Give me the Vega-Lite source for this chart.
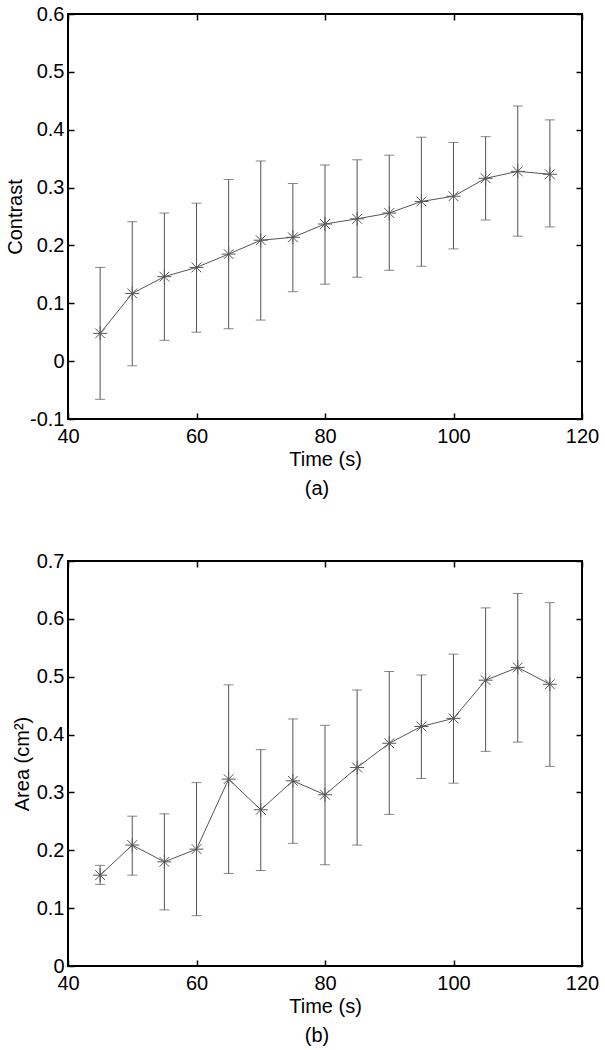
{
  "$schema": "https://vega.github.io/schema/vega-lite/v6.json",
  "background": "white",
  "padding": {"left": 4, "top": 3, "right": 0, "bottom": 0},
  "spacing": 50,
  "config": {
    "font": "Liberation Sans",
    "view": {"stroke": "black", "strokeWidth": 2},
    "axis": {
      "grid": false,
      "domain": false,
      "tickSize": -6,
      "tickColor": "black",
      "tickWidth": 1.5,
      "labelFontSize": 20,
      "labelColor": "black",
      "labelFlush": false,
      "labelOverlap": false,
      "titleFontSize": 20,
      "titleFontWeight": "normal",
      "titleColor": "black"
    },
    "title": {"fontSize": 20, "fontWeight": "normal", "color": "black"}
  },
  "datasets": {
    "contrast": [
      {"t": 45, "v": 0.048, "lo": -0.066, "hi": 0.162},
      {"t": 50, "v": 0.117, "lo": -0.008, "hi": 0.241},
      {"t": 55, "v": 0.146, "lo": 0.036, "hi": 0.256},
      {"t": 60, "v": 0.162, "lo": 0.050, "hi": 0.273},
      {"t": 65, "v": 0.185, "lo": 0.056, "hi": 0.314},
      {"t": 70, "v": 0.209, "lo": 0.071, "hi": 0.346},
      {"t": 75, "v": 0.214, "lo": 0.120, "hi": 0.307},
      {"t": 80, "v": 0.237, "lo": 0.133, "hi": 0.339},
      {"t": 85, "v": 0.246, "lo": 0.145, "hi": 0.348},
      {"t": 90, "v": 0.256, "lo": 0.157, "hi": 0.356},
      {"t": 95, "v": 0.276, "lo": 0.164, "hi": 0.387},
      {"t": 100, "v": 0.285, "lo": 0.194, "hi": 0.378},
      {"t": 105, "v": 0.316, "lo": 0.244, "hi": 0.388},
      {"t": 110, "v": 0.328, "lo": 0.216, "hi": 0.441},
      {"t": 115, "v": 0.323, "lo": 0.232, "hi": 0.417}
    ],
    "area": [
      {"t": 45, "v": 0.157, "lo": 0.141, "hi": 0.174},
      {"t": 50, "v": 0.209, "lo": 0.157, "hi": 0.259},
      {"t": 55, "v": 0.180, "lo": 0.097, "hi": 0.263},
      {"t": 60, "v": 0.202, "lo": 0.087, "hi": 0.317},
      {"t": 65, "v": 0.323, "lo": 0.160, "hi": 0.486},
      {"t": 70, "v": 0.270, "lo": 0.165, "hi": 0.374},
      {"t": 75, "v": 0.320, "lo": 0.212, "hi": 0.427},
      {"t": 80, "v": 0.296, "lo": 0.175, "hi": 0.416},
      {"t": 85, "v": 0.343, "lo": 0.209, "hi": 0.477},
      {"t": 90, "v": 0.385, "lo": 0.262, "hi": 0.509},
      {"t": 95, "v": 0.414, "lo": 0.324, "hi": 0.503},
      {"t": 100, "v": 0.428, "lo": 0.316, "hi": 0.539},
      {"t": 105, "v": 0.494, "lo": 0.371, "hi": 0.619},
      {"t": 110, "v": 0.516, "lo": 0.387, "hi": 0.644},
      {"t": 115, "v": 0.487, "lo": 0.345, "hi": 0.628}
    ]
  },
  "vconcat": [
    {
      "width": 514,
      "height": 405,
      "data": {"name": "contrast"},
      "title": {"text": "(a)", "orient": "bottom", "anchor": "middle", "frame": "group", "offset": 10, "dx": -8},
      "resolve": {"axis": {"x": "independent", "y": "independent"}},
      "layer": [
        {
          "mark": {"type": "errorbar", "ticks": true, "size": 10, "thickness": 1, "color": "#555"},
          "encoding": {
            "x": {"field": "t", "type": "quantitative", "axis": null, "scale": {"domain": [40, 120], "nice": false, "zero": false}},
            "y": {"field": "lo", "type": "quantitative", "axis": null, "scale": {"domain": [-0.1, 0.6], "nice": false, "zero": false}},
            "y2": {"field": "hi"}
          }
        },
        {
          "mark": {"type": "line", "color": "#555", "strokeWidth": 1},
          "encoding": {
            "x": {"field": "t", "type": "quantitative", "scale": {"domain": [40, 120], "nice": false, "zero": false},
                  "axis": {"orient": "bottom", "values": [40, 60, 80, 100, 120], "labelPadding": 13, "title": "Time (s)", "titlePadding": 3}},
            "y": {"field": "v", "type": "quantitative", "scale": {"domain": [-0.1, 0.6], "nice": false, "zero": false},
                  "axis": {"orient": "left", "values": [-0.1, 0, 0.1, 0.2, 0.3, 0.4, 0.5, 0.6], "labelExpr": "'' + datum.value", "labelPadding": 10, "title": "Contrast", "titlePadding": 4}}
          }
        },
        {
          "mark": {"type": "point", "shape": "M-1,0L1,0M0,-1L0,1M-0.7,-0.7L0.7,0.7M-0.7,0.7L0.7,-0.7", "size": 196, "filled": false, "color": "#555", "strokeWidth": 1, "opacity": 1},
          "encoding": {
            "x": {"field": "t", "type": "quantitative", "scale": {"domain": [40, 120], "nice": false, "zero": false},
                  "axis": {"orient": "top", "values": [40, 60, 80, 100, 120], "labels": false, "title": null}},
            "y": {"field": "v", "type": "quantitative", "scale": {"domain": [-0.1, 0.6], "nice": false, "zero": false},
                  "axis": {"orient": "right", "values": [-0.1, 0, 0.1, 0.2, 0.3, 0.4, 0.5, 0.6], "labels": false, "title": null}}
          }
        }
      ]
    },
    {
      "width": 514,
      "height": 405,
      "data": {"name": "area"},
      "title": {"text": "(b)", "orient": "bottom", "anchor": "middle", "frame": "group", "offset": 10, "dx": -8},
      "resolve": {"axis": {"x": "independent", "y": "independent"}},
      "layer": [
        {
          "mark": {"type": "errorbar", "ticks": true, "size": 10, "thickness": 1, "color": "#555"},
          "encoding": {
            "x": {"field": "t", "type": "quantitative", "axis": null, "scale": {"domain": [40, 120], "nice": false, "zero": false}},
            "y": {"field": "lo", "type": "quantitative", "axis": null, "scale": {"domain": [0, 0.7], "nice": false, "zero": false}},
            "y2": {"field": "hi"}
          }
        },
        {
          "mark": {"type": "line", "color": "#555", "strokeWidth": 1},
          "encoding": {
            "x": {"field": "t", "type": "quantitative", "scale": {"domain": [40, 120], "nice": false, "zero": false},
                  "axis": {"orient": "bottom", "values": [40, 60, 80, 100, 120], "labelPadding": 13, "title": "Time (s)", "titlePadding": 3}},
            "y": {"field": "v", "type": "quantitative", "scale": {"domain": [0, 0.7], "nice": false, "zero": false},
                  "axis": {"orient": "left", "values": [0, 0.1, 0.2, 0.3, 0.4, 0.5, 0.6, 0.7], "labelExpr": "'' + datum.value", "labelPadding": 10, "title": "Area (cm²)", "titlePadding": 4}}
          }
        },
        {
          "mark": {"type": "point", "shape": "M-1,0L1,0M0,-1L0,1M-0.7,-0.7L0.7,0.7M-0.7,0.7L0.7,-0.7", "size": 196, "filled": false, "color": "#555", "strokeWidth": 1, "opacity": 1},
          "encoding": {
            "x": {"field": "t", "type": "quantitative", "scale": {"domain": [40, 120], "nice": false, "zero": false},
                  "axis": {"orient": "top", "values": [40, 60, 80, 100, 120], "labels": false, "title": null}},
            "y": {"field": "v", "type": "quantitative", "scale": {"domain": [0, 0.7], "nice": false, "zero": false},
                  "axis": {"orient": "right", "values": [0, 0.1, 0.2, 0.3, 0.4, 0.5, 0.6, 0.7], "labels": false, "title": null}}
          }
        }
      ]
    }
  ]
}
